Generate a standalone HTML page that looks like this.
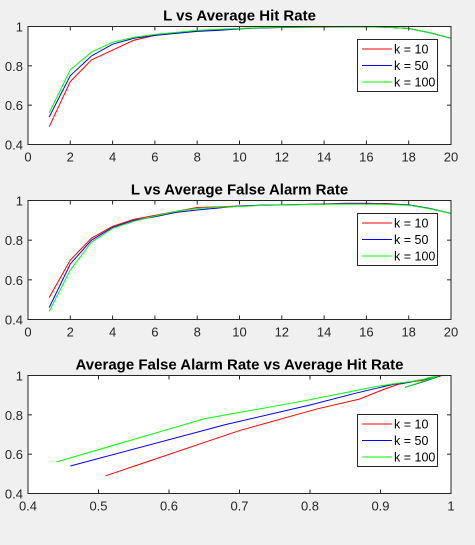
<!DOCTYPE html>
<html><head><meta charset="utf-8">
<style>
html,body{margin:0;padding:0;background:#f0f0f0;}
svg{display:block;font-family:"Liberation Sans",Arial,sans-serif;}
</style></head>
<body>
<svg id="fig" width="475" height="545" xmlns="http://www.w3.org/2000/svg"></svg>
<script>
const Ls = [1,2,3,4,5,6,7,8,9,10,11,12,13,14,15,16,17,18,19,20];
const hitK10 = [0.49,0.72,0.83,0.88,0.93,0.955,0.968,0.978,0.984,0.99,0.993,0.995,0.996,0.997,0.998,0.998,0.996,0.99,0.968,0.94];
const hitK50 = [0.54,0.75,0.85,0.91,0.94,0.955,0.965,0.975,0.98,0.988,0.993,0.995,0.997,0.998,0.998,0.998,0.996,0.99,0.968,0.94];
const hitK100 = [0.56,0.78,0.87,0.92,0.945,0.96,0.97,0.98,0.986,0.99,0.994,0.996,0.997,0.998,0.998,0.998,0.996,0.99,0.968,0.94];
const faK10 = [0.51,0.70,0.81,0.87,0.905,0.925,0.945,0.965,0.968,0.972,0.976,0.978,0.98,0.983,0.986,0.986,0.984,0.978,0.96,0.935];
const faK50 = [0.46,0.68,0.80,0.865,0.90,0.918,0.94,0.952,0.962,0.972,0.976,0.978,0.98,0.982,0.984,0.984,0.982,0.978,0.96,0.935];
const faK100 = [0.44,0.65,0.79,0.86,0.895,0.922,0.945,0.96,0.966,0.97,0.975,0.977,0.979,0.981,0.982,0.982,0.98,0.976,0.958,0.935];
const xTicksL = [0,2,4,6,8,10,12,14,16,18,20];
const xTicksFA = [0.4,0.5,0.6,0.7,0.8,0.9,1];
const yTicks = [0.4,0.6,0.8,1];
const yTickLabels = ["0.4","0.6","0.8","1"];
const legendLabels = ["k = 10","k = 50","k = 100"];

const NS="http://www.w3.org/2000/svg";
const svg=document.getElementById('fig');
function mk(tag,attrs,parent){const e=document.createElementNS(NS,tag);for(const k in attrs)e.setAttribute(k,attrs[k]);(parent||svg).appendChild(e);return e;}

function panel(cfg){
  const g=mk('g',{});
  
  
  const L=28,R=451,T=cfg.top,B=cfg.bottom;
  const sx=v=>L+(v-cfg.xmin)/(cfg.xmax-cfg.xmin)*(R-L);
  const sy=v=>B-(v-0.4)/(0.6)*(B-T);
  const bg=mk('rect',{x:L,y:T,width:R-L,height:B-T,fill:'#fff'},g);
  
  
  const t=mk('text',{x:(L+R)/2,y:T-6,'text-anchor':'middle','font-size':'15','font-weight':'bold',fill:'#000'},g);
  t.textContent=cfg.title;
  
  
  const cols=['#ff0000','#0000ff','#00ff00'];
  cfg.series.forEach((s,i)=>{
    const pts=s.x.map((xv,j)=>sx(xv).toFixed(2)+','+sy(s.y[j]).toFixed(2)).join(' ');
    const pl=mk('polyline',{points:pts,fill:'none',stroke:cols[i],'stroke-width':'1'},g);
    
    
  });
  const ax=mk('rect',{x:L,y:T,width:R-L,height:B-T,fill:'none',stroke:'#262626','stroke-width':'1'},g);
  
  
  cfg.xticks.forEach(v=>{
    const x=sx(v);
    mk('line',{x1:x,y1:B,x2:x,y2:B-4,stroke:'#262626'},g);
    mk('line',{x1:x,y1:T,x2:x,y2:T+4,stroke:'#262626'},g);
    const tx=mk('text',{x:x,y:B+17,'text-anchor':'middle','font-size':'13',fill:'#262626'},g);
    tx.textContent=String(v);
    
    
  });
  yTicks.forEach((v,i)=>{
    const y=sy(v);
    mk('line',{x1:L,y1:y,x2:L+4,y2:y,stroke:'#262626'},g);
    mk('line',{x1:R,y1:y,x2:R-4,y2:y,stroke:'#262626'},g);
    const ty=mk('text',{x:L-5,y:y+5,'text-anchor':'end','font-size':'13',fill:'#262626'},g);
    ty.textContent=yTickLabels[i];
    
    
  });
  const lg=mk('g',{},g);
  
  
  mk('rect',{x:357.5,y:cfg.legTop+0.5,width:80,height:52,fill:'#fff',stroke:'#262626','stroke-width':'1'},lg);
  legendLabels.forEach((lab,i)=>{
    const y=cfg.legTop+10+i*16.5;
    mk('line',{x1:362,y1:y,x2:392,y2:y,stroke:cols[i],'stroke-width':'1'},lg);
    const lt=mk('text',{x:394,y:y+4.5,'font-size':'12.5',fill:'#000'},lg);
    lt.textContent=lab;
    
    
  });
}

panel({name:'hit-rate-chart',title:'L vs Average Hit Rate',top:26.5,bottom:144.5,xmin:0,xmax:20,xticks:xTicksL,legTop:39,
  series:[{x:Ls,y:hitK10},{x:Ls,y:hitK50},{x:Ls,y:hitK100}]});
panel({name:'false-alarm-chart',title:'L vs Average False Alarm Rate',top:200.5,bottom:319.5,xmin:0,xmax:20,xticks:xTicksL,legTop:213,
  series:[{x:Ls,y:faK10},{x:Ls,y:faK50},{x:Ls,y:faK100}]});
panel({name:'fa-vs-hit-chart',title:'Average False Alarm Rate vs Average Hit Rate',top:375.5,bottom:493.5,xmin:0.4,xmax:1,xticks:xTicksFA,legTop:414,
  series:[{x:faK10,y:hitK10},{x:faK50,y:hitK50},{x:faK100,y:hitK100}]});
</script>
</body></html>
